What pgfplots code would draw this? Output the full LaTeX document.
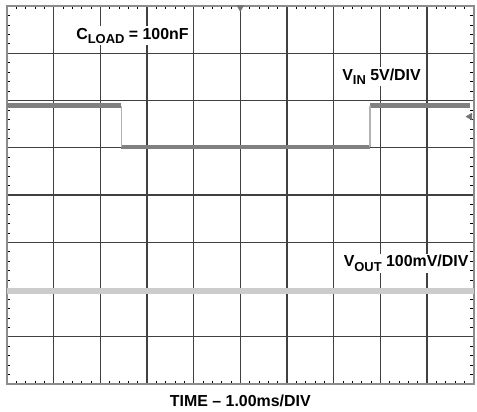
\documentclass[border=0pt]{standalone}
\usepackage{pgfplots}
\pgfplotsset{compat=1.18}
\usepackage{fontspec}
\setmainfont{Liberation Sans}
\newcommand{\sub}[1]{\raisebox{-0.55ex}{\fontsize{13}{13}\selectfont #1}}
\begin{document}
\begin{tikzpicture}
\begin{axis}[
  scale only axis,
  width=469pt, height=380pt,
  xmin=0, xmax=10, ymin=0, ymax=8,
  xtick={0,...,10}, ytick={0,...,8},
  xticklabels={}, yticklabels={},
  minor x tick num=4, minor y tick num=4,
  major tick length=0pt, minor tick length=3.5pt,
  every minor tick/.style={black, line width=0.6pt},
  tick align=inside,
  grid=major,
  major grid style={black!75, line width=1.1pt},
  axis line style={black!45, line width=2pt},
  clip=false,
  xlabel={\bfseries TIME -- 1.00ms/DIV},
  xlabel style={font=\fontsize{16}{17}\selectfont, yshift=0pt},
]
% V_OUT trace
\addplot[gray!40, line width=6pt] coordinates {(0,1.97) (10,1.97)};
% V_IN trace: flat segments
\addplot[black!50, line width=4.5pt] coordinates {(0,5.89) (2.45,5.89)};
\addplot[black!50, line width=4.5pt] coordinates {(2.45,5.02) (7.78,5.02)};
\addplot[black!50, line width=4.5pt] coordinates {(7.78,5.89) (9.93,5.89)};
% V_IN edges
\addplot[black!30, line width=1.5pt] coordinates {(2.45,5.89) (2.45,5.02)};
\addplot[black!30, line width=1.5pt] coordinates {(7.78,5.02) (7.78,5.89)};
% markers
\addplot[only marks, mark=triangle*, mark size=4pt, black!55, mark options={rotate=180}] coordinates {(5,7.97)};
\addplot[only marks, mark=triangle*, mark size=4pt, black!55, mark options={rotate=90}] coordinates {(9.92,5.66)};
% labels
\node[fill=white, anchor=base west, inner sep=1.5pt, font=\bfseries\fontsize{16}{17}\selectfont] at (axis cs:1.45,7.30) {C\sub{LOAD} = 100nF};
\node[fill=white, anchor=base west, inner sep=1.5pt, font=\bfseries\fontsize{16}{17}\selectfont] at (axis cs:7.15,6.43) {V\sub{IN} 5V/DIV};
\node[fill=white, anchor=base west, inner sep=1.5pt, font=\bfseries\fontsize{16}{17}\selectfont] at (axis cs:7.18,2.48) {V\sub{OUT} 100mV/DIV};
\end{axis}
\path (current axis.south west) ++(-7pt,-28pt) coordinate (bl);
\path (current axis.north east) ++(1pt,6pt) coordinate (tr);
\useasboundingbox (bl) rectangle (tr);
\end{tikzpicture}
\end{document}
